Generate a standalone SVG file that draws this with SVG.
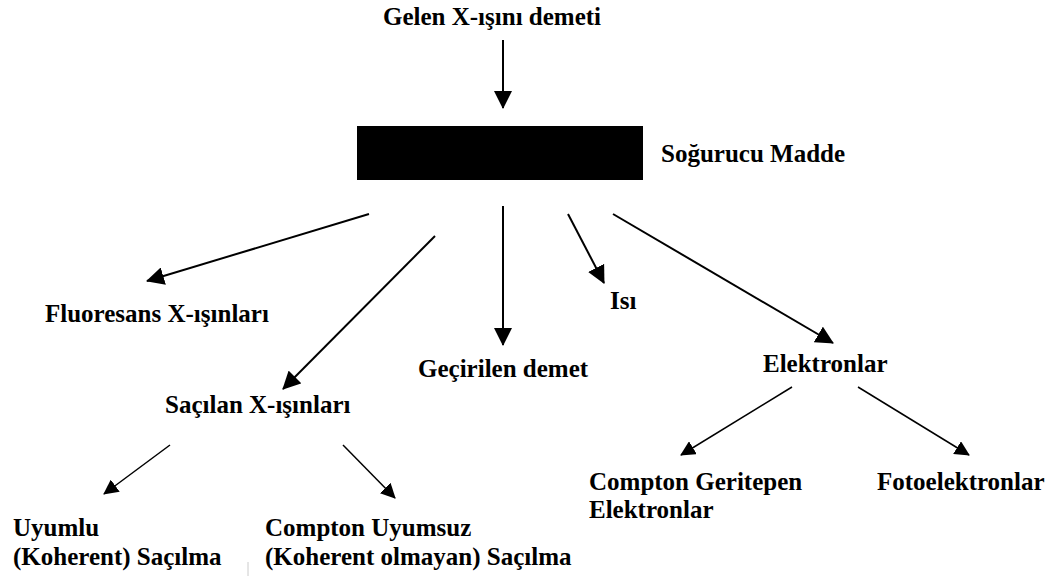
<svg xmlns="http://www.w3.org/2000/svg" width="1062" height="576" viewBox="0 0 1062 576">
<style>
text{font-family:"Liberation Serif","Times New Roman",serif;font-weight:bold;font-size:25px;fill:#000}
.c{stroke:#000;stroke-width:2;fill:none}
.t{stroke:#000;stroke-width:1.5;fill:none}
</style>
<defs>
<marker id="ah" viewBox="0 0 18 18" refX="17" refY="9" markerWidth="18" markerHeight="18" markerUnits="userSpaceOnUse" orient="auto"><path d="M0,0 L18,9 L0,18 z" fill="#000"/></marker>
<marker id="as" viewBox="0 0 15 15" refX="14" refY="7.5" markerWidth="15" markerHeight="15" markerUnits="userSpaceOnUse" orient="auto"><path d="M0,0 L15,7.5 L0,15 z" fill="#000"/></marker>
</defs>
<rect width="1062" height="576" fill="#fff"/>
<g id="connectors">
<line class="c" x1="503" y1="40" x2="503" y2="108" marker-end="url(#ah)"/>
<line class="c" x1="369" y1="214" x2="147" y2="281" marker-end="url(#ah)"/>
<line class="c" x1="435" y1="236" x2="283" y2="389" marker-end="url(#ah)"/>
<line class="c" x1="503" y1="206" x2="503" y2="345" marker-end="url(#ah)"/>
<line class="c" x1="568" y1="214" x2="604" y2="283" marker-end="url(#ah)"/>
<line class="c" x1="613" y1="214" x2="833" y2="343" marker-end="url(#ah)"/>
<line class="t" x1="170" y1="445" x2="104" y2="494" marker-end="url(#as)"/>
<line class="t" x1="343" y1="445" x2="395" y2="498" marker-end="url(#as)"/>
<line class="t" x1="792" y1="387" x2="681" y2="455" marker-end="url(#as)"/>
<line class="t" x1="858" y1="387" x2="969" y2="455" marker-end="url(#as)"/>
</g>
<g id="incoming"><text x="383" y="25">Gelen X-ışını demeti</text></g>
<g id="absorber"><rect x="357" y="126" width="286" height="54" fill="#000"/><text x="661" y="162">Soğurucu Madde</text></g>
<g id="fluorescence"><text x="45" y="322">Fluoresans X-ışınları</text></g>
<g id="scattered"><text x="165" y="413">Saçılan X-ışınları</text></g>
<g id="transmitted"><text x="418" y="377">Geçirilen demet</text></g>
<g id="heat"><text x="610" y="309">Isı</text></g>
<g id="electrons"><text x="763" y="372">Elektronlar</text></g>
<g id="coherent"><text x="13" y="536">Uyumlu</text><text x="13" y="565">(Koherent) Saçılma</text></g>
<g id="incoherent"><text x="265" y="536">Compton Uyumsuz</text><text x="265" y="565">(Koherent olmayan) Saçılma</text></g>
<g id="recoil"><text x="589" y="490">Compton Geritepen</text><text x="589" y="518">Elektronlar</text></g>
<g id="photoelectrons"><text x="877" y="490">Fotoelektronlar</text></g>
<line x1="248" y1="562" x2="248" y2="576" stroke="#ccc" stroke-width="1"/>
</svg>
